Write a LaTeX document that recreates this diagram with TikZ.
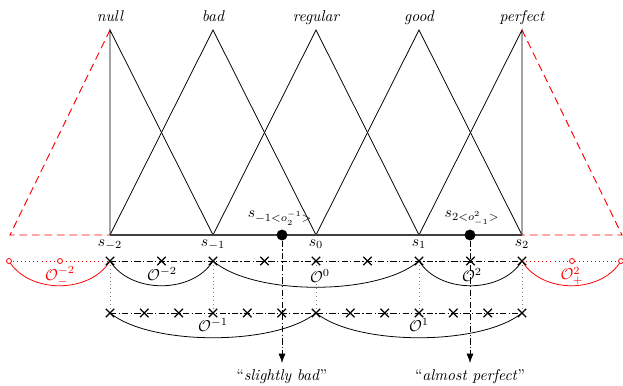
\documentclass[tikz,border=0pt]{standalone}
\usetikzlibrary{arrows.meta,shapes.misc}
\begin{document}
\begin{tikzpicture}[x=0.64pt,y=-0.64pt,
  lbl/.style={font=\itshape, inner sep=0pt, anchor=base},
  slbl/.style={inner sep=0pt, anchor=base},
  tri/.style={line width=0.5pt},
  base/.style={line width=0.8pt, black!75},
  ext/.style={red, dashed, line width=0.6pt, dash pattern=on 5pt off 3pt},
  xmark/.style={cross out, draw, minimum size=4.6pt, inner sep=0pt, line width=0.8pt},
  rdot/.style={circle, draw=red, fill=white, minimum size=3.2pt, inner sep=0pt, line width=0.5pt},
  arcline/.style={line width=0.5pt},
  guide/.style={gray, dotted, line width=0.5pt},
  dd/.style={line width=0.5pt, dash pattern=on 4pt off 1.5pt on 0.8pt off 1.5pt},
  olbl/.style={inner sep=0pt},
  pt/.style={circle, fill, inner sep=0pt, minimum size=7pt},
]
\useasboundingbox (0,0) rectangle (623,385);

% anchor points: base line, peaks, first and second granularity lines
\foreach \n/\x in {m2/110, m1/213, z/316, p1/419, p2/522} {
  \coordinate (b\n) at (\x,235);
  \coordinate (t\n) at (\x,30);
  \coordinate (u\n) at (\x,261);
  \coordinate (v\n) at (\x,313);
}
\coordinate (lft) at (10,235);
\coordinate (rgt) at (622,235);

% linguistic terms
\node[lbl] (lnull) at (110,21) {null};
\node[lbl] (lbad) at (213,21) {bad};
\node[lbl] (lreg) at (316,21) {regular};
\node[lbl] (lgood) at (419,21) {good};
\node[lbl] (lperf) at (522,21) {perfect};

% virtual extension of the term set
\draw[ext] (tm2) -- (lft) -- (bm2);
\draw[ext] (tp2) -- (rgt) -- (bp2);

% membership functions
\draw[tri] (bm2) -- (tm2) -- (bm1);
\draw[tri] (bm2) -- (tm1) -- (bz);
\draw[tri] (bm1) -- (tz) -- (bp1);
\draw[tri] (bz) -- (tp1) -- (bp2);
\draw[tri] (bp1) -- (tp2) -- (bp2);
\draw[base] (bm2) -- (bp2);

% term indices
\node[slbl] (sm2) at (110,246) {$s_{-2}$};
\node[slbl] (sm1) at (213,246) {$s_{-1}$};
\node[slbl] (sz)  at (316,246) {$s_{0}$};
\node[slbl] (sp1) at (419,246) {$s_{1}$};
\node[slbl] (sp2) at (522,246) {$s_{2}$};

% guides between the two levels
\foreach \n in {m2,m1,z,p1,p2} \draw[guide] (u\n) -- (v\n);

% first level
\coordinate (rl0) at (9,261);
\coordinate (rr0) at (621,261);
\draw[red, dotted, line width=0.6pt] (rl0) -- (um2);
\draw[red, dotted, line width=0.6pt] (up2) -- (rr0);
\draw[dd] (um2) -- (up2);
\draw[arcline] (um2) .. controls (130.6,294) and (192.4,294) .. (um1);
\draw[arcline] (um1) .. controls (254,296) and (378,296) .. (up1);
\draw[arcline] (up1) .. controls (439.6,294) and (501.4,294) .. (up2);
\draw[red, arcline] (rl0) .. controls (29,294) and (90,294) .. (um2);
\draw[red, arcline] (up2) .. controls (542,294) and (601,294) .. (rr0);
\node[rdot] (rl1) at (rl0) {};
\node[rdot] (rl2) at (60,261) {};
\node[rdot] (rr1) at (572,261) {};
\node[rdot] (rr2) at (rr0) {};
\foreach \i in {0,...,8} \node[xmark] (xa\i) at ({110+51.5*\i},261) {};

% second level
\draw[dd] (vm2) -- (vp2);
\draw[arcline] (vm2) .. controls (151,346) and (275,346) .. (vz);
\draw[arcline] (vz) .. controls (357,346) and (481,346) .. (vp2);
\foreach \i in {0,...,12} \node[xmark] (xb\i) at ({110+103/3*\i},313) {};

% granularity labels
\node[olbl, red] (om2m) at (60,276) {$\mathcal{O}_{-}^{-2}$};
\node[olbl] (om2) at (162,274) {$\mathcal{O}^{-2}$};
\node[olbl, fill=white, inner sep=0.5pt] (oz) at (320,276) {$\mathcal{O}^{0}$};
\node[olbl] (op2) at (472,275) {$\mathcal{O}^{2}$};
\node[olbl, red] (op2p) at (572,276) {$\mathcal{O}_{+}^{2}$};
\node[olbl] (om1) at (213,325) {$\mathcal{O}^{-1}$};
\node[olbl] (op1) at (419,325) {$\mathcal{O}^{1}$};

% translated assessments
\node[pt] (pa) at (282,235) {};
\node[pt] (pb) at (470,235) {};
\node[slbl] (la) at (280,217) {$s_{-1<o_{2}^{-1}>}$};
\node[slbl] (lb) at (472,217) {$s_{2<o^{2}_{-1}>}$};
\coordinate (ea) at (282,363);
\coordinate (eb) at (470,363);
\draw[dd, -{Latex[length=6pt,width=4.5pt]}] (pa) -- (ea);
\draw[dd, -{Latex[length=6pt,width=4.5pt]}] (pb) -- (eb);
\node[slbl] (qa) at (282,380) {``\textit{slightly bad}''};
\node[slbl] (qb) at (470,380) {``\textit{almost perfect}''};
\end{tikzpicture}
\end{document}
